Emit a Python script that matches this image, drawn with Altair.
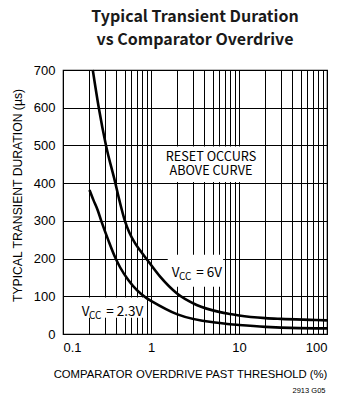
import altair as alt
import pandas as pd

# --- data ---
x_6v = [0.218, 0.255, 0.308, 0.39, 0.437, 0.502, 0.567, 0.658, 0.75, 0.89, 1.27, 1.96, 3.3, 6.1, 7.9, 10, 20, 30, 75, 100]
y_6v = [700, 600, 500, 404, 355, 302, 269, 241, 222, 199, 152, 108, 77, 58, 53, 49, 42, 40, 37, 36]

x_23v = [0.2, 0.222, 0.248, 0.272, 0.327, 0.397, 0.445, 0.552, 0.89, 1.0, 2.0, 5.1, 6.1, 7.9, 10, 20, 30, 75, 100]
y_23v = [382, 355, 328, 300, 249, 200, 177, 143, 95, 88, 52, 31, 29, 26, 24, 19, 17, 15, 15]

x_grid = [0.1, 0.2, 0.3, 0.4, 0.5, 0.6, 0.7, 0.8, 0.9,
          1, 2, 3, 4, 5, 6, 7, 8, 9,
          10, 20, 30, 40, 50, 60, 70, 80, 90, 100]
y_ticks = [0, 100, 200, 300, 400, 500, 600, 700]

title_lines = ["Typical Transient Duration", "vs Comparator Overdrive"]
x_title = "COMPARATOR OVERDRIVE PAST THRESHOLD (%)"
y_title = "TYPICAL TRANSIENT DURATION (µs)"

# annotation boxes (white masks behind in-plot labels)
box_x = [1.17, 1.55, 0.155]
box_x2 = [16.4, 6.6, 0.85]
box_y = [497, 210, 97]
box_y2 = [403, 125, 43]

# annotation text
reset_lines = ["RESET OCCURS", "ABOVE CURVE"]
reset_x = [4.8, 4.8]
reset_y = [460, 421]

lab_x = [1.72, 0.163]
lab_y = [151, 48.5]
lab_rest = ["= 6V", "= 2.3V"]

NARROW = "Noto Sans CJK SC, Liberation Sans Narrow, sans-serif"
REG = "Liberation Sans, Arial, sans-serif"

curves = pd.DataFrame({
    "x": x_6v + x_23v,
    "y": y_6v + y_23v,
    "s": ["6V"] * len(x_6v) + ["2.3V"] * len(x_23v),
})
boxes = pd.DataFrame({"x": box_x, "x2": box_x2, "y": box_y, "y2": box_y2})
reset = pd.DataFrame({"x": reset_x, "y": reset_y, "t": reset_lines})
labs = pd.DataFrame({"x": lab_x, "y": lab_y, "rest": lab_rest,
                     "v": ["V", "V"], "cc": ["CC", "CC"]})
note = pd.DataFrame({"t": ["2913 G05"]})

label_expr = ("datum.value == 0.1 ? '0.1' : datum.value == 1 ? '1' : "
              "datum.value == 10 ? '10' : datum.value == 100 ? '100' : ''")

X = alt.X("x:Q",
          scale=alt.Scale(type="log", domain=[0.1, 100], nice=False),
          axis=alt.Axis(values=x_grid, labelExpr=label_expr, title=x_title,
                        labelPadding=7, titleY=43, titleX=127,
                        titleBaseline="alphabetic", titleFont=REG,
                        titleFontSize=11.3))
Y = alt.Y("y:Q",
          scale=alt.Scale(domain=[0, 700], nice=False),
          axis=alt.Axis(values=y_ticks, title=y_title, labelPadding=8,
                        titleX=-42, titleY=125, titleBaseline="alphabetic",
                        titleAngle=270, titleFont=REG, titleFontSize=12.2))

rects = alt.Chart(boxes).mark_rect(fill="white").encode(
    x=X, x2="x2:Q", y=Y, y2="y2:Q")

lines = alt.Chart(curves).mark_line(color="black", strokeWidth=2.6,
                                    interpolate="monotone").encode(
    x=X, y=Y, detail="s:N")

reset_text = alt.Chart(reset).mark_text(font=NARROW, fontSize=12.7, color="black",
                                        align="center", baseline="alphabetic").encode(
    x=X, y=Y, text="t:N")

v_text = alt.Chart(labs).mark_text(font=NARROW, fontSize=13.5, color="black",
                                   align="left", baseline="alphabetic").encode(
    x=X, y=Y, text="v:N")
cc_text = alt.Chart(labs).mark_text(font=NARROW, fontSize=10, color="black",
                                    align="left", baseline="alphabetic",
                                    dx=7.3, dy=3).encode(
    x=X, y=Y, text="cc:N")
rest_text = alt.Chart(labs).mark_text(font=NARROW, fontSize=13.5, color="black",
                                      align="left", baseline="alphabetic",
                                      dx=24.5).encode(
    x=X, y=Y, text="rest:N")

note_text = alt.Chart(note).mark_text(font=REG, fontSize=7.5, color="black",
                                      align="center", baseline="alphabetic").encode(
    x=alt.value(246), y=alt.value(323), text="t:N")

chart = alt.layer(rects, lines, reset_text, v_text, cc_text, rest_text, note_text).properties(
    width=264, height=264,
    autosize=alt.AutoSizeParams(type="none"),
    padding={"left": 55, "top": 62, "right": 22, "bottom": 62},
    title=alt.Title(title_lines, font=NARROW, fontSize=16, fontWeight="bold",
                    anchor="middle", frame="group", baseline="bottom",
                    offset=0, lineHeight=23, color="#1a1a1a"),
).configure_view(
    stroke="black", strokeWidth=1.2
).configure_axis(
    grid=True, gridColor="black", gridOpacity=1, gridWidth=1,
    ticks=False, domain=False,
    labelFont=REG, labelFontSize=13, labelColor="black",
    titleFontWeight="normal", titleColor="black",
)

chart.save("out.html", embed_options={"renderer": "svg", "actions": False})
